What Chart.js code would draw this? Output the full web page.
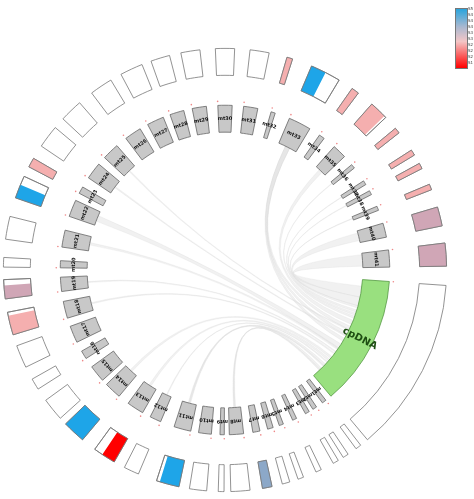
<!DOCTYPE html>
<html>
<head>
<meta charset="utf-8">
<script src="https://cdn.jsdelivr.net/npm/chart.js@4"></script>
<style>
  body { margin: 0; background: #fff; font-family: "DejaVu Sans", sans-serif; }
  #wrap { position: relative; width: 474px; height: 499px; }
  #bar { position: absolute; left: 455px; top: 8px; width: 11px; height: 59px;
         border: 1px solid #777; background: linear-gradient(#2aa4dc, #a8b8d0 30%, #f4c6c6 55%, #ff0000); }
  #barLabels { position: absolute; left: 468px; top: 6px; font-size: 4px; color: #444; line-height: 6px; }
</style>
</head>
<body>
<div id="wrap">
  <canvas id="circos" width="474" height="499"></canvas>
  <div id="bar"></div>
  <div id="barLabels"></div>
</div>
<script>
// segments, clockwise starting with cpDNA; centre angle (deg from top) and angular width
const segNames = ["cpDNA","mt1","mt2","mt3","mt4","mt5","mt6","mt7","mt8","mt9","mt10","mt11","mt12","mt13","mt14","mt15","mt16","mt17","mt18","mt19","mt20","mt21","mt22","mt23","mt24","mt25","mt26","mt27","mt28","mt29","mt30","mt31","mt32","mt33","mt34","mt35","mt36","mt37","mt38","mt39","mt40","mt41"];
const segCenters = [117,143,147,150,155,160,164,169,176,181,187,195,205,213,223,231,239,247,256,265,272,281,292,299,307,316,326,335,343,351,360,369,377,387,396,404,411,418,422,428,436,446];
const segWidths = [46,1.5,1.5,1.5,1.5,1.5,2,2.5,5,1.5,4.5,6,4,6,6,6,3,6,6,5,2.5,6,6,2.5,6,6,6,6,5,5,5,5,1.5,8,2,5,1.5,1.5,1.5,1.5,5,6];
// outer track: score (1..5, null = empty) and filled fraction
const outerScore = [null,null,null,null,null,null,null,4.3,null,null,null,5,null,1,5,null,null,null,3,3.3,null,null,5,3,null,null,null,null,null,null,null,null,3,5,3,3,3,3,3,3,3.3,3.3];
const outerFill = [0,0,0,0,0,0,0,1,0,0,0,0.85,0,0.6,1,0,0,0,0.85,0.7,0,0,0.6,1,0,0,0,0,0,0,0,0,1,0.5,1,0.9,1,1,1,1,1,1];
// links from cpDNA: [target, position on cpDNA (0..1), width on cpDNA (0..1)]
const linkTargets = ["mt41","mt40","mt39","mt38","mt37","mt36","mt35","mt33","mt33","mt33","mt22","mt21","mt19","mt18","mt14","mt13","mt12","mt11","mt11","mt8","mt8","mt25","mt24"];
const linkPos = [0.06,0.16,0.24,0.28,0.31,0.34,0.38,0.44,0.5,0.56,0.62,0.66,0.7,0.72,0.76,0.79,0.82,0.85,0.87,0.9,0.92,0.47,0.53];
const linkWidth = [0.1,0.08,0.02,0.02,0.02,0.02,0.04,0.03,0.03,0.03,0.05,0.02,0.01,0.01,0.02,0.02,0.01,0.02,0.01,0.02,0.01,0.01,0.01];
const barTicks = ["S5","S4","S4","S4","S3","S3","S2","S2","S2","S1"];

document.getElementById("barLabels").innerHTML = barTicks.map(t => `<div>${t}</div>`).join("");

function scoreColor(s) {
  if (s == null) return "#ffffff";
  const stops = [[1,[255,0,0]],[3,[245,175,175]],[3.3,[208,166,182]],[4.3,[140,168,200]],[5,[30,165,232]]];
  for (let i = 1; i < stops.length; i++) {
    if (s <= stops[i][0]) {
      const [a, ca] = stops[i-1], [b, cb] = stops[i];
      const t = (s - a) / (b - a);
      return `rgb(${ca.map((v, k) => Math.round(v + (cb[k] - v) * t)).join(",")})`;
    }
  }
  return "rgb(30,165,232)";
}

// build doughnut table: segment, gap, segment, gap ...
const starts = segCenters.map((c, i) => c - segWidths[i] / 2);
const ringData = [], segIndex = [];
segNames.forEach((n, i) => {
  const next = i + 1 < segNames.length ? starts[i + 1] : starts[0] + 360;
  ringData.push(segWidths[i]); segIndex.push(i);
  ringData.push(next - starts[i] - segWidths[i]); segIndex.push(-1);
});
const isSeg = segIndex.map(i => i >= 0);

const circosPlugin = {
  id: "circos",
  beforeDatasetsDraw(chart) {
    const ctx = chart.ctx;
    const inner = chart.getDatasetMeta(2).data;
    const arcOf = name => inner[segIndex.indexOf(segNames.indexOf(name))];
    const cp = arcOf("cpDNA");
    const r = cp.innerRadius, cx = cp.x, cy = cp.y;
    ctx.save();
    ctx.fillStyle = "rgba(228,228,228,0.5)";
    ctx.strokeStyle = "rgba(215,215,215,0.5)";
    ctx.lineWidth = 0.5;
    linkTargets.forEach((t, i) => {
      const tgt = arcOf(t);
      const span = cp.endAngle - cp.startAngle;
      const a0 = cp.startAngle + span * linkPos[i];
      const a1 = a0 + span * linkWidth[i];
      const tw = (tgt.endAngle - tgt.startAngle) * Math.min(1, linkWidth[i] * 8);
      const tm = (tgt.startAngle + tgt.endAngle) / 2;
      const b0 = tm - tw / 2, b1 = tm + tw / 2;
      ctx.beginPath();
      ctx.arc(cx, cy, r, a0, a1);
      ctx.quadraticCurveTo(cx, cy, cx + r * Math.cos(b0), cy + r * Math.sin(b0));
      ctx.arc(cx, cy, r, b0, b1);
      ctx.quadraticCurveTo(cx, cy, cx + r * Math.cos(a0), cy + r * Math.sin(a0));
      ctx.fill(); ctx.stroke();
    });
    ctx.restore();
  },
  afterDatasetsDraw(chart) {
    const ctx = chart.ctx;
    const outer = chart.getDatasetMeta(0).data;
    ctx.save();
    outer.forEach((arc, k) => {
      const i = segIndex[k];
      if (i < 0 || !outerFill[i]) return;
      const e = arc.startAngle + (arc.endAngle - arc.startAngle) * outerFill[i];
      ctx.beginPath();
      ctx.arc(arc.x, arc.y, arc.outerRadius, arc.startAngle, e);
      ctx.arc(arc.x, arc.y, arc.innerRadius, e, arc.startAngle, true);
      ctx.closePath();
      ctx.fillStyle = scoreColor(outerScore[i]);
      ctx.fill();
      ctx.beginPath();
      ctx.arc(arc.x, arc.y, arc.outerRadius, arc.startAngle, arc.endAngle);
      ctx.arc(arc.x, arc.y, arc.innerRadius, arc.endAngle, arc.startAngle, true);
      ctx.closePath();
      ctx.strokeStyle = "#777"; ctx.lineWidth = 0.8; ctx.stroke();
    });
    // labels on inner track
    chart.getDatasetMeta(2).data.forEach((arc, k) => {
      const i = segIndex[k];
      if (i < 0) return;
      const a = (arc.startAngle + arc.endAngle) / 2;
      const rr = (arc.innerRadius + arc.outerRadius) / 2;
      ctx.save();
      ctx.translate(arc.x + rr * Math.cos(a), arc.y + rr * Math.sin(a));
      ctx.rotate(a + Math.PI / 2);
      ctx.textAlign = "center"; ctx.textBaseline = "middle";
      ctx.fillStyle = "#111";
      if (i === 0) {
        ctx.rotate(-Math.PI / 2);
        ctx.font = "bold 10px 'DejaVu Sans'";
        ctx.fillStyle = "#1d4d12";
      } else {
        ctx.font = "bold 5px 'DejaVu Sans'";
      }
      ctx.fillText(segNames[i], 0, 0);
      ctx.restore();
      // small red start marker
      ctx.fillStyle = "#e88";
      ctx.beginPath();
      ctx.arc(arc.x + (arc.outerRadius + 4) * Math.cos(arc.startAngle), arc.y + (arc.outerRadius + 4) * Math.sin(arc.startAngle), 0.8, 0, 2 * Math.PI);
      ctx.fill();
    });
    ctx.restore();
  }
};

new Chart(document.getElementById("circos"), {
  type: "doughnut",
  data: {
    labels: ringData.map((_, k) => segIndex[k] >= 0 ? segNames[segIndex[k]] : ""),
    datasets: [
      { data: ringData, weight: 27,
        backgroundColor: isSeg.map(s => s ? "#ffffff" : "rgba(0,0,0,0)"),
        borderColor: "#777", borderWidth: isSeg.map(s => s ? 0.8 : 0) },
      { data: [1], weight: 30, backgroundColor: "rgba(0,0,0,0)", borderWidth: 0 },
      { data: ringData, weight: 27,
        backgroundColor: segIndex.map(i => i < 0 ? "rgba(0,0,0,0)" : i === 0 ? "#99e07f" : "#c8c8c8"),
        borderColor: segIndex.map(i => i === 0 ? "#559944" : "#666"),
        borderWidth: isSeg.map(s => s ? 0.8 : 0) }
    ]
  },
  options: {
    responsive: false,
    animation: false,
    rotation: starts[0],
    cutout: "62.2%",
    layout: { padding: { left: 3, right: 27, top: 48, bottom: 7 } },
    plugins: { legend: { display: false }, tooltip: { enabled: false } }
  },
  plugins: [circosPlugin]
});
</script>
</body>
</html>
